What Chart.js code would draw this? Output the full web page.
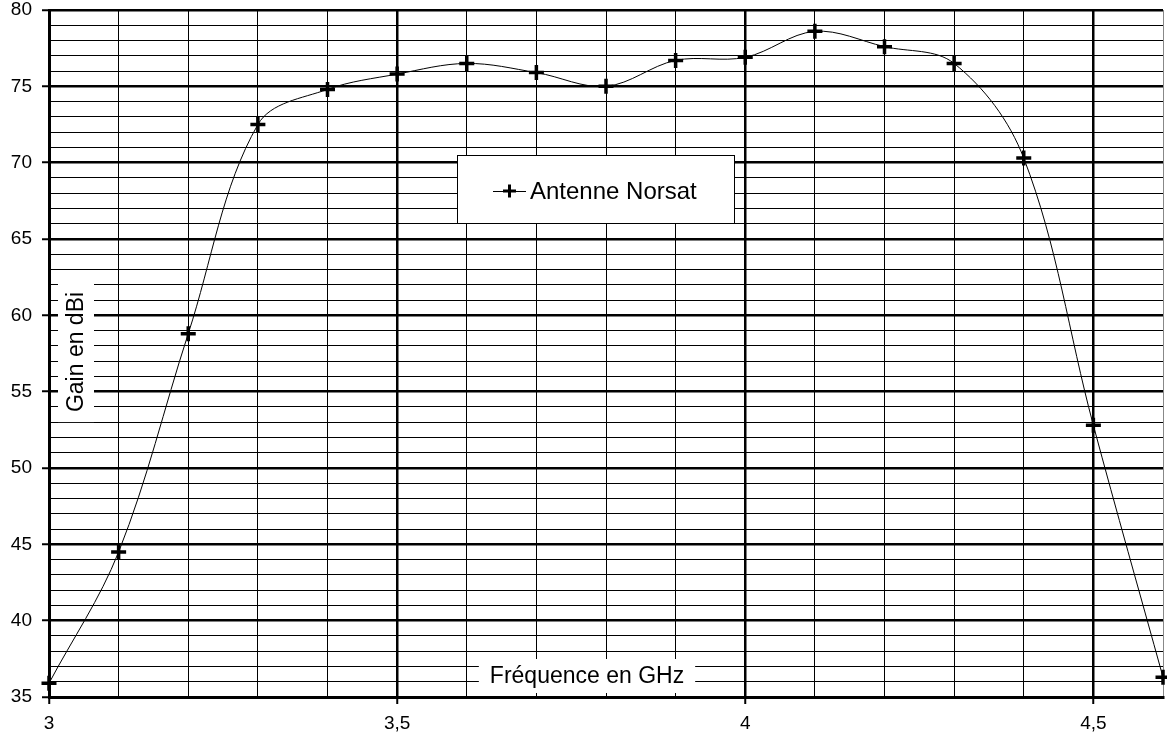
<!DOCTYPE html>
<html>
<head>
<meta charset="utf-8">
<script src="https://cdn.jsdelivr.net/npm/chart.js@4"></script>
<style>
  html, body { margin:0; padding:0; background:#fff; }
  #wrap { width:1167px; height:736px; position:relative; }
</style>
</head>
<body>
<div id="wrap"><canvas id="c" width="1167" height="736"></canvas></div>
<script>
// ---- data ----
const frequencies = [3.0, 3.1, 3.2, 3.3, 3.4, 3.5, 3.6, 3.7, 3.8, 3.9, 4.0, 4.1, 4.2, 4.3, 4.4, 4.5, 4.6];
const gainValues  = [35.9, 44.5, 58.8, 72.5, 74.8, 75.8, 76.5, 75.9, 75.0, 76.7, 76.9, 78.6, 77.6, 76.5, 70.3, 52.8, 36.3];
const seriesName = 'Antenne Norsat';
const xTitle = 'Fréquence en GHz';
const yTitle = 'Gain en dBi';
const xLabelValues = [3, 3.5, 4, 4.5];
const xLabelTexts  = ['3', '3,5', '4', '4,5'];
const yLabelValues = [35, 40, 45, 50, 55, 60, 65, 70, 75, 80];
const yLabelTexts  = ['35', '40', '45', '50', '55', '60', '65', '70', '75', '80'];

const FONT = '"Liberation Sans", Arial, sans-serif';
const near = (a, b) => Math.abs(a - b) < 1e-6;
const isXMajor = v => near(v * 2, Math.round(v * 2));
const isYMajor = v => near(v / 5, Math.round(v / 5));

const overlay = {
  id: 'overlay',
  afterDatasetsDraw(chart) {
    const ctx = chart.ctx;
    ctx.save();
    ctx.font = '23px ' + FONT;
    ctx.fillStyle = '#000';
    // Y title (inside plot, rotated)
    const yw = ctx.measureText(yTitle).width;
    const ycx = 76, ycy = 352;
    ctx.fillStyle = '#fff';
    ctx.fillRect(ycx - 18, ycy - yw / 2 - 10, 36, yw + 20);
    ctx.save();
    ctx.translate(ycx, ycy);
    ctx.rotate(-Math.PI / 2);
    ctx.fillStyle = '#000';
    ctx.textAlign = 'center';
    ctx.textBaseline = 'middle';
    ctx.fillText(yTitle, 0, 1);
    ctx.restore();
    // X title
    const xw = ctx.measureText(xTitle).width;
    const xcx = 587, xcy = 676;
    ctx.fillStyle = '#fff';
    ctx.fillRect(xcx - xw / 2 - 11, xcy - 17, xw + 22, 34);
    ctx.fillStyle = '#000';
    ctx.textAlign = 'center';
    ctx.textBaseline = 'middle';
    ctx.fillText(xTitle, xcx, xcy + 1);
    // Legend box
    ctx.font = '24px ' + FONT;
    const lx = 457, ly = 155, lw = 277, lh = 68;
    ctx.fillStyle = '#fff';
    ctx.fillRect(lx, ly, lw, lh);
    ctx.strokeStyle = '#000';
    ctx.lineWidth = 1;
    ctx.strokeRect(lx + 0.5, ly + 0.5, lw, lh);
    const sy = 191;
    ctx.beginPath();
    ctx.moveTo(493, sy + 0.5); ctx.lineTo(526, sy + 0.5);
    ctx.stroke();
    ctx.lineWidth = 3;
    ctx.beginPath();
    ctx.moveTo(503, sy); ctx.lineTo(516, sy);
    ctx.moveTo(509.5, sy - 6.5); ctx.lineTo(509.5, sy + 6.5);
    ctx.stroke();
    ctx.fillStyle = '#000';
    ctx.textAlign = 'left';
    ctx.textBaseline = 'middle';
    ctx.fillText(seriesName, 530, sy + 1);
    ctx.restore();
  }
};

new Chart(document.getElementById('c'), {
  type: 'line',
  data: {
    datasets: [{
      label: seriesName,
      data: frequencies.map((f, i) => ({ x: f, y: gainValues[i] })),
      borderColor: '#000',
      borderWidth: 1,
      tension: 0.35,
      pointStyle: 'cross',
      pointRadius: 7.5,
      pointBorderWidth: 3.5,
      pointBorderColor: '#000',
      pointBackgroundColor: '#000',
      clip: false
    }]
  },
  options: {
    responsive: false,
    animation: false,
    events: [],
    layout: { autoPadding: false, padding: { top: 10, right: 4, left: 0, bottom: 0 } },
    plugins: { legend: { display: false }, tooltip: { enabled: false } },
    scales: {
      x: {
        type: 'linear',
        min: 3, max: 4.6,
        afterFit(s) { s.height = 39; s.paddingLeft = 0; s.paddingRight = 0; },
        ticks: {
          stepSize: 0.1,
          autoSkip: false,
          maxRotation: 0,
          padding: 8,
          color: '#000',
          font: { family: FONT, size: 19 },
          callback(v) {
            const i = xLabelValues.findIndex(t => near(t, v));
            return i >= 0 ? xLabelTexts[i] : '';
          }
        },
        grid: {
          color: c => near(c.tick.value, 4.6) ? '#888' : '#000',
          lineWidth: c => isXMajor(c.tick.value) ? 2.5 : 1,
          tickLength: 7,
          tickColor: c => isXMajor(c.tick.value) ? '#000' : 'rgba(0,0,0,0)',
          tickWidth: 2
        },
        border: { display: true, color: '#000', width: 3 }
      },
      y: {
        type: 'linear',
        min: 35, max: 80,
        afterFit(s) { s.width = 49; s.paddingTop = 0; s.paddingBottom = 0; },
        ticks: {
          stepSize: 1,
          autoSkip: false,
          padding: 10,
          color: '#000',
          font: { family: FONT, size: 19 },
          callback(v) {
            const i = yLabelValues.findIndex(t => near(t, v));
            return i >= 0 ? yLabelTexts[i] : '';
          }
        },
        grid: {
          color: '#000',
          lineWidth: c => isYMajor(c.tick.value) ? 2.5 : 1,
          tickLength: 7,
          tickColor: c => isYMajor(c.tick.value) ? '#000' : 'rgba(0,0,0,0)',
          tickWidth: 2
        },
        border: { display: true, color: '#000', width: 3 }
      }
    }
  },
  plugins: [overlay]
});
</script>
</body>
</html>
